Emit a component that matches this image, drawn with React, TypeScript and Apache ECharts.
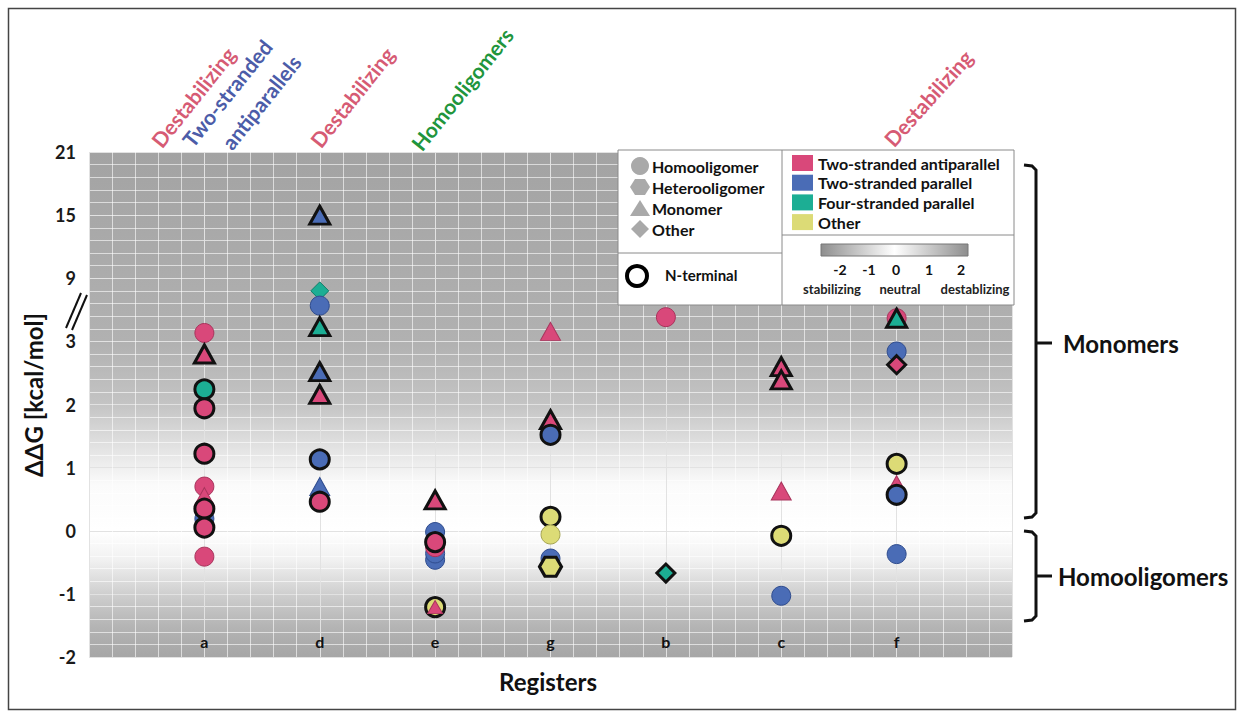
import React, { useEffect, useRef } from 'react';
import * as echarts from 'echarts';

// ---- data ----
const registers = ['a', 'd', 'e', 'g', 'b', 'c', 'f'];
const yTickLabels = ['-2', '-1', '0', '1', '2', '3', '9', '15', '21'];

type Shape = 'circle' | 'hexagon' | 'triangle' | 'diamond';
type Strand = 'anti' | 'par' | 'four' | 'other';
// [ΔΔG, oligomer shape, strand type, N-terminal]
type Pt = [number, Shape, Strand, boolean];

const registerA: Pt[] = [
  [3.8, 'circle', 'anti', false],
  [2.8, 'triangle', 'anti', true],
  [2.24, 'circle', 'four', true],
  [1.94, 'circle', 'anti', true],
  [1.22, 'circle', 'anti', true],
  [0.19, 'circle', 'par', false],
  [0.7, 'circle', 'anti', false],
  [0.54, 'triangle', 'anti', false],
  [0.35, 'circle', 'anti', true],
  [0.05, 'circle', 'anti', true],
  [-0.41, 'circle', 'anti', false],
];
const registerD: Pt[] = [
  [15, 'triangle', 'par', true],
  [7.8, 'diamond', 'four', false],
  [6.4, 'circle', 'par', false],
  [4.4, 'triangle', 'four', true],
  [2.52, 'triangle', 'par', true],
  [2.16, 'triangle', 'anti', true],
  [1.13, 'circle', 'par', true],
  [0.7, 'triangle', 'par', false],
  [0.46, 'circle', 'anti', true],
];
const registerE: Pt[] = [
  [0.49, 'triangle', 'anti', true],
  [-0.02, 'circle', 'par', false],
  [-0.46, 'circle', 'par', false],
  [-0.36, 'circle', 'par', false],
  [-0.26, 'circle', 'anti', false],
  [-0.18, 'circle', 'anti', true],
  [-1.21, 'circle', 'other', true],
  [-1.21, 'triangle', 'anti', false],
];
const registerG: Pt[] = [
  [3.95, 'triangle', 'anti', false],
  [1.76, 'triangle', 'anti', true],
  [1.52, 'circle', 'par', true],
  [0.22, 'circle', 'other', true],
  [-0.06, 'circle', 'other', false],
  [-0.44, 'circle', 'par', false],
  [-0.57, 'hexagon', 'other', true],
];
const registerB: Pt[] = [
  [5.3, 'circle', 'anti', false],
  [-0.67, 'diamond', 'four', true],
];
const registerC: Pt[] = [
  [2.6, 'triangle', 'anti', true],
  [2.39, 'triangle', 'anti', true],
  [0.63, 'triangle', 'anti', false],
  [-0.08, 'circle', 'other', true],
  [-1.03, 'circle', 'par', false],
];
const registerF: Pt[] = [
  [5.2, 'circle', 'anti', false],
  [5.2, 'triangle', 'four', true],
  [2.84, 'circle', 'par', false],
  [2.63, 'diamond', 'anti', true],
  [1.06, 'circle', 'other', true],
  [0.73, 'triangle', 'anti', false],
  [0.57, 'circle', 'par', true],
  [-0.37, 'circle', 'par', false],
];
const registerPoints: Pt[][] = [registerA, registerD, registerE, registerG, registerB, registerC, registerF];

const shapeLegend = ['Homooligomer', 'Heterooligomer', 'Monomer', 'Other'];
const strandLegend = ['Two-stranded antiparallel', 'Two-stranded parallel', 'Four-stranded parallel', 'Other'];
const scaleTicks = ['-2', '-1', '0', '1', '2'];

// ---- styles ----
const FONT = 'Lato, "Open Sans", sans-serif';
const strandColors: Record<Strand, string> = { anti: '#d9487a', par: '#4a6cb6', four: '#1cae94', other: '#dcdb76' };
const strandEdges: Record<Strand, string> = { anti: '#a8345c', par: '#2f4c8e', four: '#0e7d68', other: '#a5a452' };
const HEX = 'path://M0,10 L5,1.34 L15,1.34 L20,10 L15,18.66 L5,18.66 Z';
const symbolOf = (s: Shape) => (s === 'hexagon' ? HEX : s);
const sizeOf = (s: Shape): number | number[] =>
  s === 'circle' ? 19 : s === 'triangle' ? [20, 18] : s === 'diamond' ? [18, 18] : [22, 19];

// broken axis: linear up to 3, then 6 kcal/mol per tick
const toAxis = (v: number) => (v <= 3 ? v : 3 + (v - 3) / 6);

export default function App() {
  const ref = useRef<HTMLDivElement>(null);
  useEffect(() => {
    if (!ref.current) return;
    const chart = echarts.init(ref.current, undefined, { renderer: 'svg' });

    const data: any[] = [];
    registerPoints.forEach((pts, i) => {
      pts.forEach(([v, shape, strand, nterm]) => {
        const small = shape === 'triangle' && strand === 'anti' && !nterm && v < -1;
        data.push({
          value: [i + 1, toAxis(v)],
          symbol: symbolOf(shape),
          symbolSize: small ? [15, 13] : sizeOf(shape),
          itemStyle: {
            color: strandColors[strand],
            borderColor: nterm ? '#111' : strandEdges[strand],
            borderWidth: nterm ? 3 : 1,
            opacity: 1,
          },
        });
      });
    });

    const bgGrad = new echarts.graphic.LinearGradient(0, 0, 0, 1, [
      { offset: 0, color: '#a3a3a3' },
      { offset: 0.375, color: '#b1b1b1' },
      { offset: 0.5, color: '#c4c4c4' },
      { offset: 0.59, color: '#e4e4e4' },
      { offset: 0.66, color: '#fbfbfb' },
      { offset: 0.75, color: '#ffffff' },
      { offset: 0.81, color: '#f0f0f0' },
      { offset: 0.875, color: '#cfcfcf' },
      { offset: 0.94, color: '#b4b4b4' },
      { offset: 1, color: '#a6a6a6' },
    ]);

    const txt = (x: number, y: number, text: string, font: string, fill = '#111', align = 'left', rotation = 0) => ({
      type: 'text',
      x,
      y,
      rotation,
      z: 20,
      silent: true,
      style: { text, fill, font, align, verticalAlign: 'middle' },
    });

    const LX = 618, LY = 150, LW = 396, LH = 155, LMID = 782;
    const gIcon = '#a9a9a9';
    const graphics: any[] = [
      // frame
      { type: 'rect', z: 1, silent: true, shape: { x: 8.5, y: 8.5, width: 1227, height: 701 }, style: { fill: 'none', stroke: '#444', lineWidth: 1.5 } },
      // legend box
      { type: 'rect', z: 15, silent: true, shape: { x: LX, y: LY, width: LW, height: LH }, style: { fill: '#fff', stroke: '#8a8a8a', lineWidth: 1 } },
      { type: 'line', z: 16, silent: true, shape: { x1: LMID, y1: LY, x2: LMID, y2: LY + LH }, style: { stroke: '#8a8a8a', lineWidth: 1 } },
      { type: 'line', z: 16, silent: true, shape: { x1: LX, y1: 253, x2: LMID, y2: 253 }, style: { stroke: '#8a8a8a', lineWidth: 1 } },
      { type: 'line', z: 16, silent: true, shape: { x1: LMID, y1: 235, x2: LX + LW, y2: 235 }, style: { stroke: '#8a8a8a', lineWidth: 1 } },
      // shape icons
      { type: 'circle', z: 20, silent: true, shape: { cx: 640, cy: 166, r: 9 }, style: { fill: gIcon } },
      { type: 'polygon', z: 20, silent: true, shape: { points: [[630, 187], [635, 179], [645, 179], [650, 187], [645, 195], [635, 195]] }, style: { fill: gIcon } },
      { type: 'polygon', z: 20, silent: true, shape: { points: [[640, 200], [650, 216], [630, 216]] }, style: { fill: gIcon } },
      { type: 'polygon', z: 20, silent: true, shape: { points: [[640, 220], [649, 229], [640, 238], [631, 229]] }, style: { fill: gIcon } },
      ...shapeLegend.map((s, i) => txt(652, 166 + i * 21, s, `bold 16px ${FONT}`)),
      { type: 'circle', z: 20, silent: true, shape: { cx: 637, cy: 276, r: 10 }, style: { fill: '#fff', stroke: '#000', lineWidth: 4 } },
      txt(665, 275, 'N-terminal', `bold 15px ${FONT}`),
      // strand swatches
      ...strandLegend.flatMap((s, i) => [
        { type: 'rect', z: 20, silent: true, shape: { x: 792, y: 155 + i * 19.7, width: 21, height: 16 }, style: { fill: [strandColors.anti, strandColors.par, strandColors.four, strandColors.other][i] } },
        txt(818, 163 + i * 19.7, s, `bold 16px ${FONT}`),
      ]),
      // stability scale bar
      {
        type: 'rect', z: 20, silent: true, shape: { x: 821, y: 244, width: 147, height: 12 },
        style: {
          fill: new echarts.graphic.LinearGradient(0, 0, 1, 0, [
            { offset: 0, color: '#8e8e8e' },
            { offset: 0.5, color: '#ffffff' },
            { offset: 1, color: '#8e8e8e' },
          ]),
          stroke: '#777', lineWidth: 1,
        },
      },
      ...scaleTicks.map((s, i) => txt([840, 869, 896, 929, 961][i], 269, s, `bold 14px ${FONT}`, '#111', 'center')),
      txt(832, 289, 'stabilizing', `bold 13px ${FONT}`, '#222', 'center'),
      txt(900, 289, 'neutral', `bold 13px ${FONT}`, '#222', 'center'),
      txt(975, 289, 'destablizing', `bold 13px ${FONT}`, '#222', 'center'),
      // top annotations
      txt(193, 97, 'Destabilizing', `bold 21px ${FONT}`, '#d65b74', 'center', 0.9),
      txt(227, 93, 'Two-stranded', `bold 21px ${FONT}`, '#4c5ca8', 'center', 0.9),
      txt(261, 102, 'antiparallels', `bold 21px ${FONT}`, '#4c5ca8', 'center', 0.9),
      txt(352, 97, 'Destabilizing', `bold 21px ${FONT}`, '#d65b74', 'center', 0.9),
      txt(462, 89, 'Homooligomers', `bold 21px ${FONT}`, '#21953c', 'center', 0.9),
      txt(928, 98, 'Destabilizing', `bold 21px ${FONT}`, '#d65b74', 'center', 0.84),
      // axis titles
      txt(33, 395, 'ΔΔG [kcal/mol]', `bold 24px ${FONT}`, '#111', 'center', Math.PI / 2),
      txt(548, 681, 'Registers', `bold 24px ${FONT}`, '#111', 'center'),
      // axis break
      { type: 'line', z: 20, silent: true, shape: { x1: 66, y1: 328, x2: 81, y2: 293 }, style: { stroke: '#111', lineWidth: 2 } },
      { type: 'line', z: 20, silent: true, shape: { x1: 72, y1: 330, x2: 87, y2: 295 }, style: { stroke: '#111', lineWidth: 2 } },
      // brackets
      { type: 'polyline', z: 20, silent: true, shape: { points: [[1024, 165], [1032, 166], [1036, 170], [1036, 513], [1032, 517], [1024, 518]] }, style: { stroke: '#111', lineWidth: 3, fill: 'none' } },
      { type: 'line', z: 20, silent: true, shape: { x1: 1036, y1: 343, x2: 1052, y2: 343 }, style: { stroke: '#111', lineWidth: 3 } },
      txt(1063, 343, 'Monomers', `bold 24px ${FONT}`),
      { type: 'polyline', z: 20, silent: true, shape: { points: [[1024, 531], [1032, 532], [1036, 536], [1036, 616], [1032, 620], [1024, 621]] }, style: { stroke: '#111', lineWidth: 3, fill: 'none' } },
      { type: 'line', z: 20, silent: true, shape: { x1: 1036, y1: 576, x2: 1052, y2: 576 }, style: { stroke: '#111', lineWidth: 3 } },
      txt(1058, 576, 'Homooligomers', `bold 24px ${FONT}`),
    ];

    chart.setOption({
      animation: false,
      backgroundColor: '#fff',
      grid: {
        left: 89,
        top: 152,
        width: 923,
        height: 505,
        show: true,
        backgroundColor: bgGrad,
        borderWidth: 0,
      },
      xAxis: {
        type: 'value',
        min: 0,
        max: 8,
        interval: 1,
        axisLine: { show: false },
        axisTick: { show: false },
        axisLabel: {
          inside: true,
          margin: 8,
          fontFamily: FONT,
          fontWeight: 'bold',
          fontSize: 16,
          color: '#111',
          formatter: (v: number) => registers[v - 1] ?? '',
        },
        splitLine: { show: true, lineStyle: { color: '#e2e2e2', width: 1 } },
        minorTick: { show: false, splitNumber: 5 },
        minorSplitLine: { show: true, lineStyle: { color: 'rgba(255,255,255,0.6)', width: 1 } },
      },
      yAxis: {
        type: 'value',
        min: -2,
        max: 6,
        interval: 1,
        axisLine: { show: false },
        axisTick: { show: false },
        axisLabel: {
          margin: 13,
          fontFamily: FONT,
          fontWeight: 'bold',
          fontSize: 18,
          color: '#1a1a1a',
          formatter: (v: number) => yTickLabels[Math.round(v) + 2] ?? '',
        },
        splitLine: { show: true, lineStyle: { color: '#e2e2e2', width: 1 } },
        minorTick: { show: false, splitNumber: 5 },
        minorSplitLine: { show: true, lineStyle: { color: 'rgba(255,255,255,0.6)', width: 1 } },
      },
      graphic: { elements: graphics },
      series: [
        {
          type: 'scatter',
          data,
          z: 5,
          emphasis: { disabled: true },
        },
      ],
    });

    return () => chart.dispose();
  }, []);

  return (
    <div
      ref={ref}
      style={{ position: 'fixed', left: 0, top: 0, width: 1243, height: 717, background: '#fff' }}
    />
  );
}
